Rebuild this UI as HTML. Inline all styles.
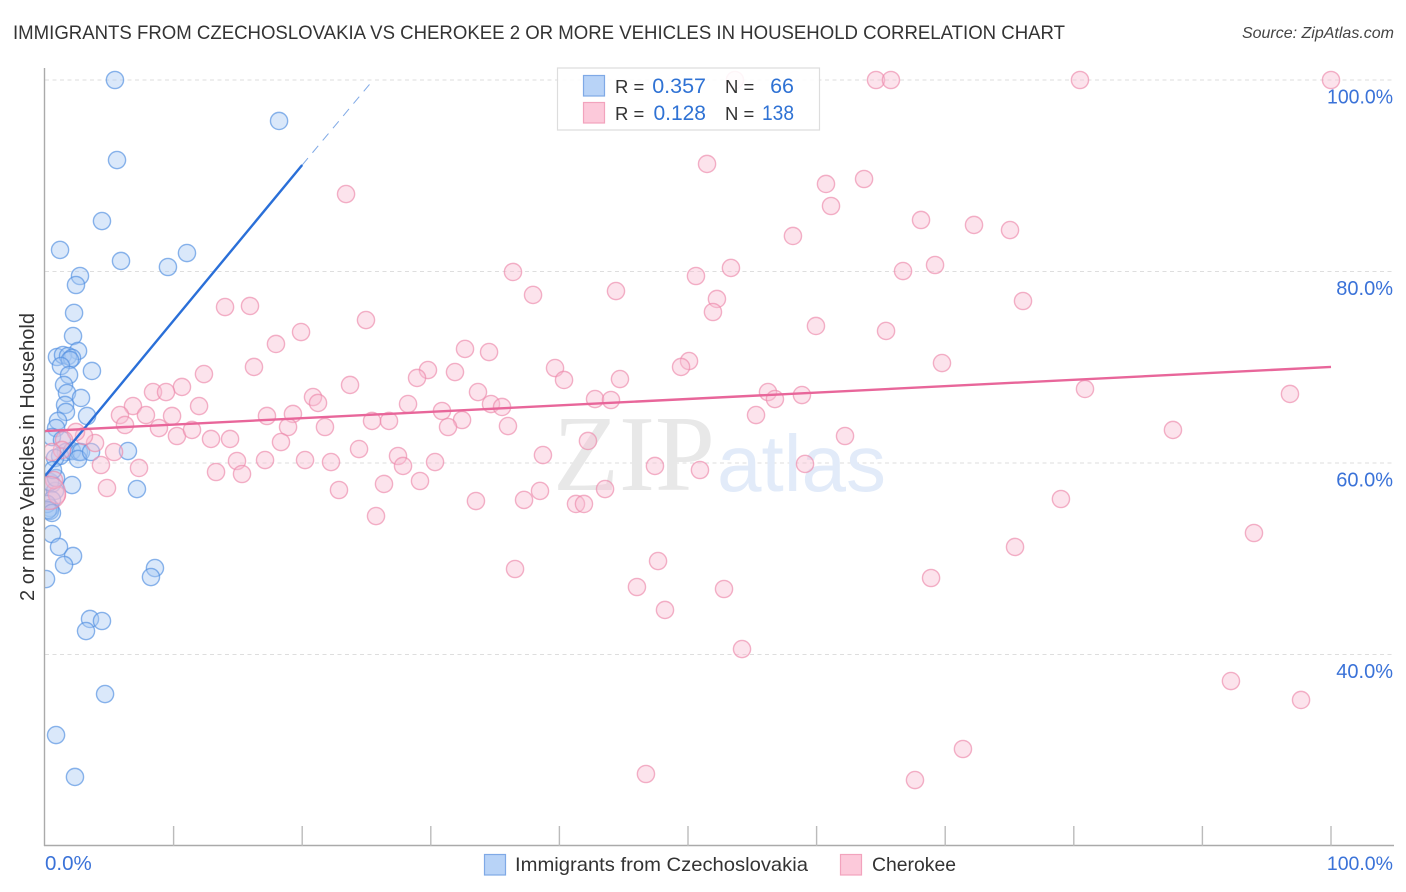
<!DOCTYPE html>
<html lang="en">
<head>
<meta charset="utf-8">
<title>Immigrants from Czechoslovakia vs Cherokee correlation chart</title>
<style>
html,body{margin:0;padding:0;background:#fff;width:1406px;height:892px;overflow:hidden}
svg{display:block;font-family:"Liberation Sans",sans-serif}
</style>
</head>
<body>
<svg id="chart" xmlns="http://www.w3.org/2000/svg" width="1406" height="892" viewBox="0 0 1406 892">
  <defs>
    <clipPath id="plot-clip"><rect x="45" y="60" width="1361" height="786"/></clipPath>
  </defs>
  <rect x="0" y="0" width="1406" height="892" fill="#ffffff"/>
  <text x="13" y="39" font-size="19.5" fill="#333333" textLength="1052" lengthAdjust="spacingAndGlyphs">IMMIGRANTS FROM CZECHOSLOVAKIA VS CHEROKEE 2 OR MORE VEHICLES IN HOUSEHOLD CORRELATION CHART</text>
  <text x="1394" y="38" font-size="16" font-style="italic" fill="#444444" text-anchor="end">Source: ZipAtlas.com</text>
  <text transform="translate(34,457) rotate(-90)" font-size="20" fill="#333333" text-anchor="middle">2 or more Vehicles in Household</text>
  <g id="grid"></g>
  <g>
    <text x="553" y="490" font-family="'Liberation Serif',serif" font-size="108" fill="#e8e8e8">ZIP</text>
    <text x="717" y="491" font-size="80" fill="#e2ebf9">atlas</text>
  </g>
  <g id="points-blue" clip-path="url(#plot-clip)"></g>
  <g id="points-pink" clip-path="url(#plot-clip)"></g>
  <g id="trends"></g>
  <g id="axes"></g>

  <g>
    <rect x="557.5" y="68" width="262" height="62" fill="#ffffff" fill-opacity="0.88" stroke="#dddddd" stroke-width="1.2"/>
    <rect x="583.5" y="75.5" width="21" height="20.5" fill="#b8d3f7" stroke="#7fa9e6" stroke-width="1.2"/>
    <rect x="583.5" y="102.5" width="21" height="20.5" fill="#fcc9da" stroke="#f2a3bd" stroke-width="1.2"/>
    <text x="615" y="93" font-size="18.5" fill="#333333">R =</text>
    <text x="706" y="93" font-size="21.5" fill="#2f72d4" text-anchor="end">0.357</text>
    <text x="725" y="93" font-size="18.5" fill="#333333">N =</text>
    <text x="794" y="93" font-size="21.5" fill="#2f72d4" text-anchor="end">66</text>
    <text x="615" y="120" font-size="18.5" fill="#333333">R =</text>
    <text x="706" y="120" font-size="21" fill="#2f72d4" text-anchor="end">0.128</text>
    <text x="725" y="120" font-size="18.5" fill="#333333">N =</text>
    <text x="794" y="120" font-size="21" fill="#2f72d4" text-anchor="end" textLength="32" lengthAdjust="spacingAndGlyphs">138</text>
  </g>

  <g>
    <rect x="484.5" y="854.5" width="21" height="20.5" fill="#b8d3f7" stroke="#7fa9e6" stroke-width="1.2"/>
    <text x="515" y="871" font-size="19.5" fill="#333333" textLength="293" lengthAdjust="spacingAndGlyphs">Immigrants from Czechoslovakia</text>
    <rect x="840.5" y="854.5" width="21" height="20.5" fill="#fcc9da" stroke="#f2a3bd" stroke-width="1.2"/>
    <text x="872" y="871" font-size="19.5" fill="#333333" textLength="84" lengthAdjust="spacingAndGlyphs">Cherokee</text>
  </g>
</svg>
<script>
// Chart data (percent values)
var yTickValues = [100, 80, 60, 40];
var yTickLabels = ["100.0%", "80.0%", "60.0%", "40.0%"];
var xTickValues = [0, 10, 20, 30, 40, 50, 60, 70, 80, 90, 100];
var xEndLabels = ["0.0%", "100.0%"];

var blueX = [5.44,18.20,5.60,4.43,1.17,11.04,5.91,9.56,2.72,2.41,2.26,2.18,2.57,0.93,1.40,1.79,2.10,1.94,3.65,1.24,1.87,1.48,1.71,2.80,1.56,1.63,3.27,1.01,0.86,0.54,1.32,1.63,1.17,2.10,2.64,2.80,2.57,3.58,6.45,0.78,7.15,2.10,0.54,0.78,0.54,0.39,0.39,0.54,1.09,2.18,1.48,8.55,8.24,0.08,3.50,4.43,3.19,4.67,0.86,2.33,0.16,0.23,0.39,0.86,0.62,0.54];
var blueY = [100,95.72,91.64,85.27,82.25,81.93,81.10,80.47,79.53,78.59,75.67,73.26,71.70,71.07,71.28,71.17,70.97,70.76,69.61,70.13,69.19,68.15,67.31,66.79,66.06,65.33,64.91,64.39,63.65,62.71,62.40,61.15,60.73,61.25,61.15,61.15,60.42,61.15,61.25,60.52,57.28,57.70,57.81,57.08,56.14,55.30,54.99,52.58,51.23,50.29,49.35,49.03,48.09,47.88,43.71,43.50,42.45,35.87,31.59,27.21,55.72,55.09,58.02,58.43,59.27,54.78];

var pinkX = [53.65,64.62,65.78,80.48,100,51.48,23.41,60.73,63.69,61.12,68.12,72.24,75.04,58.16,36.39,50.62,53.34,66.72,69.21,37.95,44.40,52.25,51.94,76.05,14.00,15.94,24.96,59.95,65.40,19.91,17.96,32.66,34.53,50.08,49.46,69.75,16.25,12.36,39.66,29.78,31.88,28.93,40.36,44.71,23.72,10.65,8.40,9.41,33.67,80.87,96.81,56.22,56.76,58.86,20.84,21.23,42.77,44.01,28.23,34.68,35.54,11.98,6.84,5.83,7.85,9.88,30.87,19.28,17.26,55.29,25.43,26.75,32.43,6.22,8.86,10.26,11.43,12.91,14.39,18.90,21.77,31.34,36.00,87.71,62.21,18.35,24.42,42.22,5.37,38.72,3.89,3.03,2.41,1.48,1.32,4.35,7.31,14.93,17.11,20.22,22.24,27.45,27.84,30.33,47.43,59.10,50.93,13.30,15.32,26.36,29.16,22.86,4.82,43.55,38.49,33.51,37.25,41.29,41.91,79.00,25.74,94.01,75.43,47.67,36.55,68.90,52.80,46.03,48.21,54.20,92.22,97.67,71.38,46.73,67.65,0.93,0.70,0.54];
var pinkY = [100,100,100,100,100,91.23,88.09,89.14,89.66,86.84,85.38,84.86,84.33,83.71,79.95,79.53,80.37,80.05,80.68,77.55,77.96,77.13,75.77,76.92,76.29,76.40,74.93,74.31,73.79,73.68,72.43,71.91,71.59,70.65,70.03,70.44,70.03,69.29,69.92,69.71,69.50,68.88,68.67,68.77,68.15,67.94,67.41,67.41,67.41,67.73,67.21,67.41,66.68,67.10,66.89,66.27,66.68,66.58,66.16,66.16,65.85,65.95,65.95,65.01,65.01,64.91,65.43,65.12,64.91,65.01,64.39,64.39,64.49,63.97,63.65,62.82,63.45,62.51,62.51,63.76,63.76,63.76,63.86,63.45,62.82,62.19,61.46,62.30,61.15,60.83,62.09,62.82,63.24,62.40,61.36,59.79,59.48,60.21,60.31,60.31,60.10,60.73,59.69,60.10,59.69,59.90,59.27,59.06,58.85,57.81,58.12,57.18,57.39,57.28,57.08,56.03,56.14,55.72,55.72,56.24,54.46,52.69,51.23,49.76,48.93,47.99,46.84,47.05,44.65,40.57,37.23,35.25,30.13,27.52,26.89,56.66,58.22,61.15];
var pinkLargeX = [0.31];
var pinkLargeY = [56.87];

var blueTrendX = [0, 20];
var blueTrendY = [58.64, 91.12];
var blueTrendDashX = [20, 25.27];
var blueTrendDashY = [91.12, 99.6];
var pinkTrendX = [0, 100];
var pinkTrendY = [63.34, 70.03];

// Axis functions
function xPos(v) { return 45 + v * 12.86; }
function yPos(v) { return 80 + (100 - v) * 9.575; }

var NS = "http://www.w3.org/2000/svg";
function make(tag, parentId, attrs) {
  var el = document.createElementNS(NS, tag);
  for (var k in attrs) el.setAttribute(k, attrs[k]);
  document.getElementById(parentId).appendChild(el);
  return el;
}

yTickValues.forEach(function (v, i) {
  var g = make("line", "grid", { x1: 45, x2: 1394, y1: yPos(v), y2: yPos(v), stroke: "#dedede", "stroke-width": 1, "stroke-dasharray": "4 3.5" });
  
  
  var t = make("text", "axes", { x: 1393, y: yPos(v) + 23.5, "font-size": 20, fill: "#3a72d8", "text-anchor": "end" });
  if (v === 100) { t.setAttribute("textLength", 66); t.setAttribute("lengthAdjust", "spacingAndGlyphs"); }
  t.textContent = yTickLabels[i];
  
  
});

blueX.forEach(function (v, i) {
  var c = make("circle", "points-blue", { cx: xPos(v), cy: yPos(blueY[i]), r: 8.6, fill: "#a8c8f4", "fill-opacity": 0.42, stroke: "#4f8de0", "stroke-opacity": 0.65, "stroke-width": 1.4 });
  
  
});

pinkX.forEach(function (v, i) {
  var c = make("circle", "points-pink", { cx: xPos(v), cy: yPos(pinkY[i]), r: 8.6, fill: "#f9bdd1", "fill-opacity": 0.42, stroke: "#ec89aa", "stroke-opacity": 0.65, "stroke-width": 1.4 });
  
  
});

pinkLargeX.forEach(function (v, i) {
  var c = make("circle", "points-pink", { cx: xPos(v), cy: yPos(pinkLargeY[i]), r: 16.5, fill: "#f9bdd1", "fill-opacity": 0.42, stroke: "#ec89aa", "stroke-opacity": 0.65, "stroke-width": 1.4 });
  
  
});

var lineBlue = make("line", "trends", { x1: xPos(blueTrendX[0]), y1: yPos(blueTrendY[0]), x2: xPos(blueTrendX[1]), y2: yPos(blueTrendY[1]), stroke: "#2a6fd8", "stroke-width": 2.4 });


var lineBlueDash = make("line", "trends", { x1: xPos(blueTrendDashX[0]), y1: yPos(blueTrendDashY[0]), x2: xPos(blueTrendDashX[1]), y2: yPos(blueTrendDashY[1]), stroke: "#7fa9e6", "stroke-width": 1, "stroke-dasharray": "9 7" });


var linePink = make("line", "trends", { x1: xPos(pinkTrendX[0]), y1: yPos(pinkTrendY[0]), x2: xPos(pinkTrendX[1]), y2: yPos(pinkTrendY[1]), stroke: "#e8669a", "stroke-width": 2.4 });



var axisY = make("line", "axes", { x1: 44.5, x2: 44.5, y1: 68, y2: 846, stroke: "#aaaaaa", "stroke-width": 1.4 });


var axisX = make("line", "axes", { x1: 44, x2: 1394, y1: 845.5, y2: 845.5, stroke: "#aaaaaa", "stroke-width": 1.4 });



xTickValues.forEach(function (v) {
  if (v === 0) return;
  var t = make("line", "axes", { x1: xPos(v), x2: xPos(v), y1: 826, y2: 846, stroke: "#bbbbbb", "stroke-width": 1.4 });
  
  
});

var xl0 = make("text", "axes", { x: 45, y: 870, "font-size": 20.5, fill: "#3a72d8" });
xl0.textContent = xEndLabels[0];


var xl1 = make("text", "axes", { x: 1393, y: 870, "font-size": 19.5, fill: "#3a72d8", "text-anchor": "end" });
xl1.textContent = xEndLabels[1];


</script>
</body>
</html>
